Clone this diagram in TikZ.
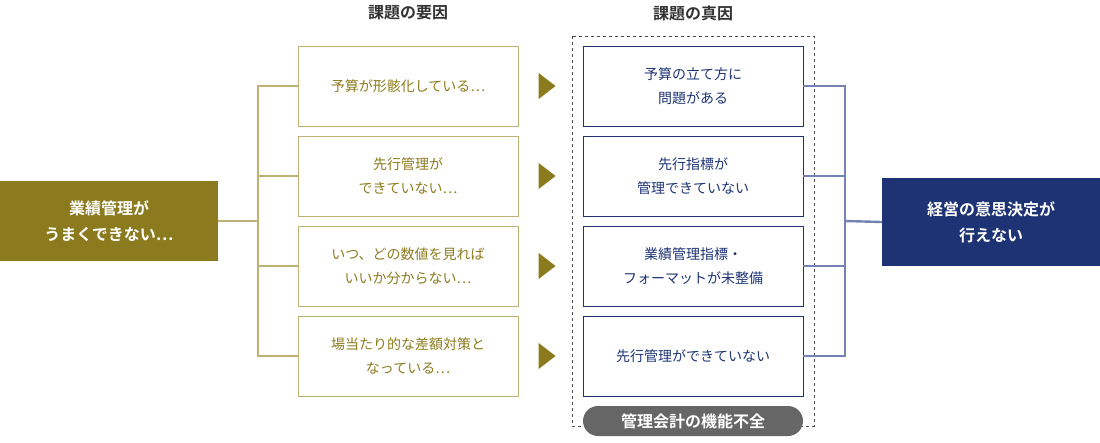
\documentclass[tikz,border=0pt]{standalone}
\usepackage{fontspec}
\usetikzlibrary{shapes.geometric}
\setmainfont{Noto Sans CJK JP}
\newfontfamily\jpb{Noto Sans CJK JP Bold}
\definecolor{olive}{HTML}{8C7B1E}
\definecolor{olivel}{HTML}{BDB173}
\definecolor{navy}{HTML}{1E3373}
\definecolor{navyl}{HTML}{7483B3}
\definecolor{pill}{HTML}{666666}
\begin{document}
\begin{tikzpicture}[x=1pt,y=-1pt,
 lbox/.style={draw=olivel,line width=0.9pt,minimum width=220pt,minimum height=80pt,align=center,text=olive,font=\fontsize{14}{24}\selectfont},
 rbox/.style={draw=navy,line width=0.9pt,minimum width=220pt,minimum height=80pt,align=center,text=navy,font=\fontsize{14}{24}\selectfont},
 tri/.style={fill=olive,isosceles triangle,isosceles triangle apex angle=75,minimum height=17pt,inner sep=0pt},
 ol/.style={olivel,line width=2.4pt},
 nl/.style={navyl,line width=2.4pt}]
\useasboundingbox (0,0) rectangle (1100,442);
\node[font=\jpb\fontsize{16}{18}\selectfont,text=black!80] (h1) at (408,13) {課題の要因};
\node[font=\jpb\fontsize{16}{18}\selectfont,text=black!80] (h2) at (693,13) {課題の真因};
\draw[dashed,gray!60!black,line width=1pt] (572,36) rectangle (814,426);
\node[fill=olive,minimum width=218pt,minimum height=80pt,align=center,text=white,font=\jpb\fontsize{16}{26}\selectfont] (L) at (109,221) {業績管理が\\うまくできない…};
\node[fill=navy,minimum width=218pt,minimum height=88pt,align=center,text=white,font=\jpb\fontsize{16}{26}\selectfont] (R) at (991,222) {経営の意思決定が\\行えない};
\node[lbox] (m1) at (408,86) {予算が形骸化している…};
\node[lbox] (m2) at (408,176) {先行管理が\\できていない…};
\node[lbox] (m3) at (408,266) {いつ、どの数値を見れば\\いいか分からない…};
\node[lbox] (m4) at (408,356) {場当たり的な差額対策と\\なっている…};
\node[rbox] (r1) at (693,86) {予算の立て方に\\問題がある};
\node[rbox] (r2) at (693,176) {先行指標が\\管理できていない};
\node[rbox] (r3) at (693,266) {業績管理指標・\\フォーマットが未整備};
\node[rbox] (r4) at (693,356) {先行管理ができていない};
\foreach \y/\n in {86/1,176/2,266/3,356/4}{
 \node[tri] (t\n) at (545,\y) {};
 \coordinate (a\n) at (258,\y);
 \coordinate (b\n) at (845,\y);
 \draw[ol] (a\n) -- (m\n.west);
 \draw[nl] (r\n.east) -- (b\n);
}
\coordinate (aj) at (258,221);
\coordinate (bj) at (845,221);
\draw[ol,line cap=rect] (a1) -- (a4);
\draw[ol] (L.east) -- (aj);
\draw[nl,line cap=rect] (b1) -- (b4);
\draw[nl] (bj) -- (R.west);
\node[fill=pill,rounded corners=15pt,minimum width=220pt,minimum height=30pt,text=white,font=\jpb\fontsize{16}{18}\selectfont] (P) at (693,421) {管理会計の機能不全};
\end{tikzpicture}
\end{document}
